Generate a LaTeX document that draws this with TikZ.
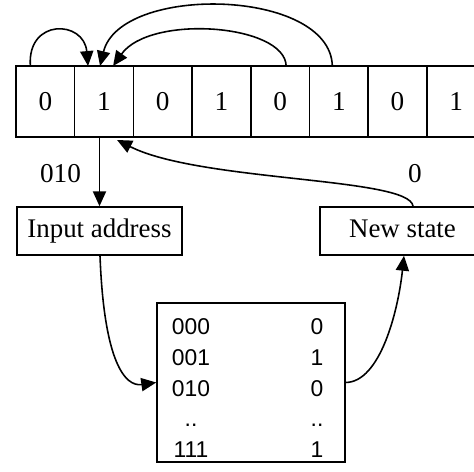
\documentclass[tikz,border=0pt]{standalone}
\usepackage{fontspec}
\setmainfont{Liberation Serif}
\setsansfont{Liberation Sans}
\usetikzlibrary{arrows.meta, calc}

\begin{document}
\begin{tikzpicture}[
    x=0.02cm, y=0.02cm,
    line width=0.9pt,
    cell/.style={draw, minimum width=1.174cm, minimum height=1.42cm, outer sep=0pt, inner sep=0pt, font=\fontsize{15.5}{18}\selectfont},
    block/.style={draw, minimum width=3.3cm, minimum height=0.96cm, inner sep=0pt, text height=0.7em, text depth=0pt, font=\fontsize{15.3}{18}\selectfont},
    lut/.style={draw, minimum width=3.76cm, minimum height=3.18cm, inner sep=0pt},
    entry/.style={inner sep=0pt, anchor=base, font=\sffamily\fontsize{13}{15}\selectfont},
    tag/.style={inner sep=0pt, anchor=base, font=\fontsize{15.5}{18}\selectfont},
    link/.style={-{Triangle[length=8.5pt, width=7.5pt]}}
]
    \useasboundingbox (0,0) rectangle (474,472);
    \clip (0,0) rectangle (474,472);

    % Tape cells
    \foreach \v [count=\i from 0] in {0,1,0,1,0,1,0,1}
        \node[cell] (cell\i) at ({16+58.7*(\i+0.5)},370.5) {\v};

    % Boxes
    \node[block] (input) at (99.5,241) {Input address};
    \node[block] (state) at (402.5,241) {New state};
    \node[lut] (table) at (251,89.5) {};

    % Lookup table
    \foreach \a/\b/\y [count=\k] in {000/0/137, 001/1/106, 010/0/75, ../../45, 111/1/14} {
        \node[entry] (addr\k) at (191,\y) {\a};
        \node[entry] (val\k) at (317,\y) {\b};
    }

    % Labels
    \node[tag] (addrtag) at (60.5,289) {010};
    \node[tag] (statetag) at (415,289) {0};

    % Neighbourhood arrows
    \draw[link] ($(cell0.north)+(-15,0)$) .. controls (27,454) and (84,452) .. ($(cell1.north)+(-16,0)$);
    \draw[link] ($(cell4.north)+(6,0)$) .. controls (285,448) and (150,458) .. ($(cell1.north)+(9,0)$);
    \draw[link] ($(cell5.north)+(-6.5,0)$) .. controls (330,484) and (120,488) .. ($(cell1.north)+(-4,0)$);

    % Update loop
    \draw[link] (cell1.south -| input.north) -- (input.north);
    \draw[link] ($(input.south)+(0.5,0)$) .. controls (104,110) and (125,85) .. (table.west);
    \draw[link] (table.east) .. controls (380,90) and (398,160) .. ($(state.south)+(1.5,0)$);
    \draw[link] ($(state.north)+(10.5,0)$) .. controls (410,295) and (200,290) .. ($(cell1.south)+(13,-3)$);
\end{tikzpicture}
\end{document}
